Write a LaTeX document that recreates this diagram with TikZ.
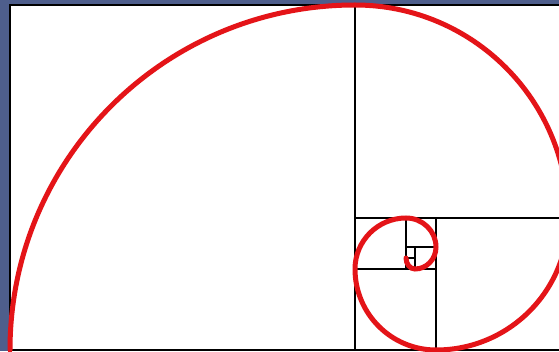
\documentclass[tikz,border=0pt]{standalone}
\definecolor{frameblue}{RGB}{78,94,140}
\definecolor{spiralred}{RGB}{228,20,24}
\tikzset{
  sqline/.style={line width=2.6pt, black},
  spiral/.style={line width=5pt, spiralred, line cap=round}
}
\begin{document}
\begin{tikzpicture}[x=1pt, y=1pt]
\useasboundingbox (-10,-1) rectangle (549,350);
\clip (-10,-1) rectangle (549,350);
\fill[frameblue] (-10,-1) rectangle (549,350);
\fill[white] (0,0) rectangle (558,345);
% squares
\draw[sqline] (0,0) rectangle (558,345);
\draw[sqline] (345,0) -- (345,345);
\draw[sqline] (345,132) -- (558,132);
\draw[sqline] (426,0) -- (426,132);
\draw[sqline] (345,81) -- (426,81);
\draw[sqline] (396,81) -- (396,132);
\draw[sqline] (396,103) -- (426,103);
\draw[sqline] (405,81) -- (405,103);
\draw[sqline] (396,92) -- (405,92);
% spiral
\draw[spiral] (0,0) arc[start angle=180, end angle=90, radius=345]
  arc[start angle=90, end angle=0, radius=213]
  arc[start angle=0, end angle=-90, radius=132]
  arc[start angle=-90, end angle=-180, radius=81]
  arc[start angle=180, end angle=90, radius=51]
  arc[start angle=90, end angle=0, x radius=30, y radius=29]
  arc[start angle=0, end angle=-90, x radius=21, y radius=22]
  arc[start angle=-90, end angle=-180, x radius=9, y radius=11];
\end{tikzpicture}
\end{document}
